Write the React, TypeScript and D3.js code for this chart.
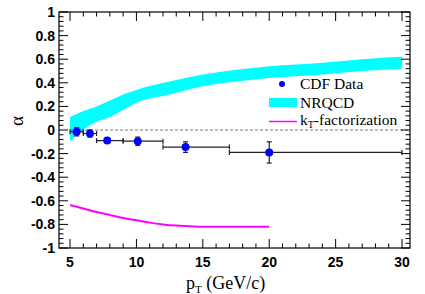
import React from "react";
import * as d3 from "d3";

// CDF measurement (bins in pT)
const cdfPt = [5.5, 6.5, 7.8, 10.1, 13.7, 20.0];
const cdfLo = [5, 6, 7, 9, 12, 17];
const cdfHi = [6, 7, 9, 12, 17, 30];
const cdfAlpha = [-0.015, -0.03, -0.09, -0.095, -0.145, -0.19];
const cdfErr = [0.035, 0.03, 0.015, 0.035, 0.045, 0.09];

// NRQCD band
const nrqcdPt = [5, 5.5, 6, 6.5, 7, 8, 9, 10, 12.5, 15, 17.5, 20, 24, 27, 30];
const nrqcdLo = [-0.1, -0.04, 0.0, 0.04, 0.07, 0.11, 0.17, 0.23, 0.3, 0.37, 0.41, 0.44, 0.47, 0.5, 0.52];
const nrqcdHi = [0.11, 0.135, 0.16, 0.18, 0.2, 0.25, 0.3, 0.34, 0.41, 0.47, 0.51, 0.54, 0.57, 0.6, 0.62];

// kT-factorization curve
const ktPt = [5, 6, 7, 8, 9, 10, 11, 12, 13, 14, 15, 17, 20];
const ktAlpha = [-0.635, -0.665, -0.695, -0.72, -0.745, -0.765, -0.785, -0.8, -0.81, -0.815, -0.82, -0.82, -0.82];

const xTicks = [5, 10, 15, 20, 25, 30];
const yTicks = [-1, -0.8, -0.6, -0.4, -0.2, 0, 0.2, 0.4, 0.6, 0.8, 1];

const W = 425, H = 294;
const left = 59, right = 410, top = 12, bottom = 248;

export default function App() {
  const x = d3.scaleLinear().domain([4.17, 30.6]).range([left, right]);
  const y = d3.scaleLinear().domain([-1, 1]).range([bottom, top]);

  const band = nrqcdPt.map((p, i) => ({ p, lo: nrqcdLo[i], hi: nrqcdHi[i] }));
  const area = d3.area<any>()
    .x(d => x(d.p))
    .y0(d => y(d.lo))
    .y1(d => y(d.hi))
    .curve(d3.curveMonotoneX);

  const kt = ktPt.map((p, i) => [p, ktAlpha[i]] as [number, number]);
  const line = d3.line<[number, number]>()
    .x(d => x(d[0]))
    .y(d => y(d[1]))
    .curve(d3.curveMonotoneX);

  const xMinor = d3.range(5, 31, 1).filter(v => v % 5 !== 0);
  const yMinor = d3.range(-100, 101, 4).map(v => v / 100).filter(v => Math.abs(Math.round(v * 100) % 20) !== 0);

  const major = 9, minor = 4.5;
  const tickFont = "'Liberation Sans', Arial, sans-serif";
  const serif = "'Liberation Serif', 'Times New Roman', serif";

  return (
    <svg width={W} height={H} style={{ position: "absolute", left: 0, top: 0, background: "#fff" }}>
      <rect x={0} y={0} width={W} height={H} fill="#fff" />

      {/* NRQCD band */}
      <path d={area(band) || ""} fill="#00ffff" />

      {/* zero line */}
      <line x1={x(5)} x2={x(30.5)} y1={y(0)} y2={y(0)} stroke="#555" strokeWidth={0.8} strokeDasharray="3,2" />

      {/* kT line */}
      <path d={line(kt) || ""} fill="none" stroke="#ff00ff" strokeWidth={2} />

      {/* CDF data */}
      {cdfPt.map((p, i) => (
        <g key={i} stroke="#222" strokeWidth={1.2}>
          <line x1={x(cdfLo[i])} x2={x(cdfHi[i])} y1={y(cdfAlpha[i])} y2={y(cdfAlpha[i])} />
          <line x1={x(cdfLo[i])} x2={x(cdfLo[i])} y1={y(cdfAlpha[i]) - 2.5} y2={y(cdfAlpha[i]) + 2.5} />
          <line x1={x(cdfHi[i])} x2={x(cdfHi[i])} y1={y(cdfAlpha[i]) - 2.5} y2={y(cdfAlpha[i]) + 2.5} />
          <line x1={x(p)} x2={x(p)} y1={y(cdfAlpha[i] + cdfErr[i])} y2={y(cdfAlpha[i] - cdfErr[i])} />
          <line x1={x(p) - 2.5} x2={x(p) + 2.5} y1={y(cdfAlpha[i] + cdfErr[i])} y2={y(cdfAlpha[i] + cdfErr[i])} />
          <line x1={x(p) - 2.5} x2={x(p) + 2.5} y1={y(cdfAlpha[i] - cdfErr[i])} y2={y(cdfAlpha[i] - cdfErr[i])} />
          <circle cx={x(p)} cy={y(cdfAlpha[i])} r={4} fill="#0000ff" stroke="none" />
        </g>
      ))}

      {/* frame */}
      <rect x={left} y={top} width={right - left} height={bottom - top} fill="none" stroke="#000" strokeWidth={1.2} />

      {/* ticks */}
      <g stroke="#000" strokeWidth={1}>
        {xTicks.map(t => (
          <g key={"xt" + t}>
            <line x1={x(t)} x2={x(t)} y1={bottom} y2={bottom - major} />
            <line x1={x(t)} x2={x(t)} y1={top} y2={top + major} />
          </g>
        ))}
        {xMinor.map(t => (
          <g key={"xm" + t}>
            <line x1={x(t)} x2={x(t)} y1={bottom} y2={bottom - minor} />
            <line x1={x(t)} x2={x(t)} y1={top} y2={top + minor} />
          </g>
        ))}
        {yTicks.map(t => (
          <g key={"yt" + t}>
            <line x1={left} x2={left + major} y1={y(t)} y2={y(t)} />
            <line x1={right} x2={right - major} y1={y(t)} y2={y(t)} />
          </g>
        ))}
        {yMinor.map(t => (
          <g key={"ym" + t}>
            <line x1={left} x2={left + minor} y1={y(t)} y2={y(t)} />
            <line x1={right} x2={right - minor} y1={y(t)} y2={y(t)} />
          </g>
        ))}
      </g>

      {/* tick labels */}
      <g fontFamily={tickFont} fontWeight="bold" fontSize={14} fill="#000">
        {xTicks.map(t => (
          <text key={"xl" + t} x={x(t)} y={267} textAnchor="middle">{t}</text>
        ))}
        {yTicks.map(t => (
          <text key={"yl" + t} x={55} y={y(t) + 5} textAnchor="end">{t}</text>
        ))}
      </g>

      {/* axis titles */}
      <text x={186} y={289} fontFamily={serif} fontSize={18} fill="#000">
        p<tspan fontSize={11} dy={4}>T</tspan><tspan dy={-4}> (GeV/c)</tspan>
      </text>
      <text transform="translate(23,121) rotate(-90)" textAnchor="middle" fontFamily={serif} fontSize={19} fill="#000">α</text>

      {/* legend */}
      <circle cx={282} cy={84} r={3} fill="#0000ff" />
      <text x={300} y={89} fontFamily={serif} fontSize={15.5} fill="#000">CDF Data</text>
      <rect x={269} y={98} width={28} height={9} fill="#00ffff" />
      <text x={300} y={107.5} fontFamily={serif} fontSize={15.5} fill="#000">NRQCD</text>
      <line x1={269} x2={297} y1={121.5} y2={121.5} stroke="#ff00ff" strokeWidth={1.5} />
      <text x={300} y={125} fontFamily={serif} fontSize={15.5} fill="#000">
        k<tspan fontSize={10} dy={3}>T</tspan><tspan dy={-3}>-factorization</tspan>
      </text>
    </svg>
  );
}
